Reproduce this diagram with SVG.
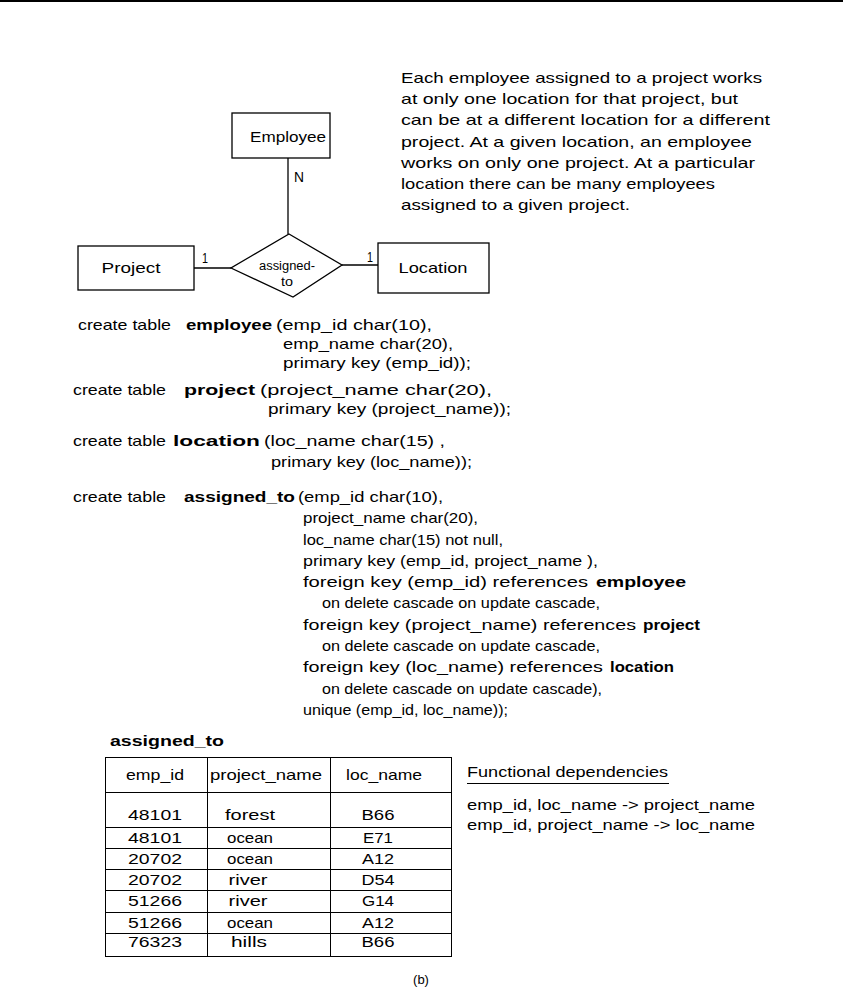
<svg xmlns="http://www.w3.org/2000/svg" width="843" height="991" viewBox="0 0 843 991">
<style>
.t { font-family: "Liberation Sans", Arial, sans-serif; font-size: 15px; fill: #000; }
.b { font-weight: bold; }
.s { font-size: 12px; }
.box { fill: #fff; stroke: #000; stroke-width: 1.3; }
.ln { stroke: #000; stroke-width: 1.3; fill: none; }
.tl { stroke: #000; stroke-width: 1; fill: none; }
</style>
<rect x="0" y="0" width="843" height="2" fill="#000"/>

<g id="connectors">
  <line class="ln" x1="288" y1="158" x2="288" y2="234"/>
  <line class="ln" x1="194" y1="268" x2="231" y2="268"/>
  <line class="ln" x1="342" y1="265" x2="378" y2="265"/>
  <text class="t" x="294" y="182" textLength="10" lengthAdjust="spacingAndGlyphs">N</text>
  <text class="t" x="202" y="263" textLength="6" lengthAdjust="spacingAndGlyphs">1</text>
  <text class="t" x="367" y="262" textLength="6" lengthAdjust="spacingAndGlyphs">1</text>
</g>

<g id="employee">
  <rect class="box" x="232" y="113" width="98" height="45"/>
  <text class="t" x="288" y="142" text-anchor="middle" textLength="76" lengthAdjust="spacingAndGlyphs">Employee</text>
</g>
<g id="project">
  <rect class="box" x="78" y="246" width="116" height="44"/>
  <text class="t" x="131" y="273" text-anchor="middle" textLength="59" lengthAdjust="spacingAndGlyphs">Project</text>
</g>
<g id="location">
  <rect class="box" x="378" y="243" width="111" height="50"/>
  <text class="t" x="433" y="273" text-anchor="middle" textLength="69" lengthAdjust="spacingAndGlyphs">Location</text>
</g>
<g id="assigned_to_rel">
  <polygon class="box" points="289,234 342,265 293,297 231,268"/>
  <text class="t s" x="287" y="270" text-anchor="middle" textLength="56" lengthAdjust="spacingAndGlyphs">assigned-</text>
  <text class="t s" x="287" y="286" text-anchor="middle" textLength="12" lengthAdjust="spacingAndGlyphs">to</text>
</g>

<g id="note">
  <text class="t" x="401" y="83" textLength="361" lengthAdjust="spacingAndGlyphs">Each employee assigned to a project works</text>
  <text class="t" x="401" y="104" textLength="337" lengthAdjust="spacingAndGlyphs">at only one location for that project, but</text>
  <text class="t" x="401" y="125" textLength="369" lengthAdjust="spacingAndGlyphs">can be at a different location for a different</text>
  <text class="t" x="401" y="147" textLength="351" lengthAdjust="spacingAndGlyphs">project.  At a given location, an employee</text>
  <text class="t" x="401" y="168" textLength="354" lengthAdjust="spacingAndGlyphs">works on only one project.  At a particular</text>
  <text class="t" x="401" y="189" textLength="314" lengthAdjust="spacingAndGlyphs">location there can be many employees</text>
  <text class="t" x="401" y="210" textLength="229" lengthAdjust="spacingAndGlyphs">assigned to a given project.</text>
</g>

<g id="sql">
  <text class="t" x="78" y="330" textLength="93" lengthAdjust="spacingAndGlyphs">create table</text>
  <text class="t b" x="186" y="330" textLength="86" lengthAdjust="spacingAndGlyphs">employee</text>
  <text class="t" x="276" y="330" textLength="156" lengthAdjust="spacingAndGlyphs">(emp_id  char(10),</text>
  <text class="t" x="283" y="349" textLength="170" lengthAdjust="spacingAndGlyphs">emp_name  char(20),</text>
  <text class="t" x="283" y="368" textLength="188" lengthAdjust="spacingAndGlyphs">primary key (emp_id));</text>

  <text class="t" x="73" y="395" textLength="93" lengthAdjust="spacingAndGlyphs">create table</text>
  <text class="t b" x="184" y="395" textLength="71" lengthAdjust="spacingAndGlyphs">project</text>
  <text class="t" x="260" y="395" textLength="232" lengthAdjust="spacingAndGlyphs">(project_name  char(20),</text>
  <text class="t" x="268" y="414" textLength="243" lengthAdjust="spacingAndGlyphs">primary key (project_name));</text>

  <text class="t" x="73" y="446" textLength="93" lengthAdjust="spacingAndGlyphs">create table</text>
  <text class="t b" x="173" y="446" textLength="87" lengthAdjust="spacingAndGlyphs">location</text>
  <text class="t" x="264" y="446" textLength="181" lengthAdjust="spacingAndGlyphs">(loc_name  char(15) ,</text>
  <text class="t" x="271" y="467" textLength="201" lengthAdjust="spacingAndGlyphs">primary key (loc_name));</text>

  <text class="t" x="73" y="502" textLength="93" lengthAdjust="spacingAndGlyphs">create table</text>
  <text class="t b" x="184" y="502" textLength="111" lengthAdjust="spacingAndGlyphs">assigned_to</text>
  <text class="t" x="298" y="502" textLength="145" lengthAdjust="spacingAndGlyphs">(emp_id  char(10),</text>
  <text class="t" x="303" y="523" textLength="175" lengthAdjust="spacingAndGlyphs">project_name  char(20),</text>
  <text class="t" x="303" y="545" textLength="200" lengthAdjust="spacingAndGlyphs">loc_name  char(15) not null,</text>
  <text class="t" x="303" y="566" textLength="295" lengthAdjust="spacingAndGlyphs">primary key (emp_id, project_name ),</text>
  <text class="t" x="303" y="587" textLength="285" lengthAdjust="spacingAndGlyphs">foreign key (emp_id) references</text>
  <text class="t b" x="596" y="587" textLength="90" lengthAdjust="spacingAndGlyphs">employee</text>
  <text class="t" x="322" y="608" textLength="278" lengthAdjust="spacingAndGlyphs">on delete cascade on update cascade,</text>
  <text class="t" x="303" y="630" textLength="333" lengthAdjust="spacingAndGlyphs">foreign key (project_name) references</text>
  <text class="t b" x="643" y="630" textLength="57" lengthAdjust="spacingAndGlyphs">project</text>
  <text class="t" x="322" y="651" textLength="278" lengthAdjust="spacingAndGlyphs">on delete cascade on update cascade,</text>
  <text class="t" x="303" y="672" textLength="300" lengthAdjust="spacingAndGlyphs">foreign key (loc_name) references</text>
  <text class="t b" x="610" y="672" textLength="64" lengthAdjust="spacingAndGlyphs">location</text>
  <text class="t" x="322" y="694" textLength="280" lengthAdjust="spacingAndGlyphs">on delete cascade on update cascade),</text>
  <text class="t" x="303" y="715" textLength="205" lengthAdjust="spacingAndGlyphs">unique (emp_id, loc_name));</text>
</g>

<g id="table">
  <text class="t b" x="110" y="746" textLength="114" lengthAdjust="spacingAndGlyphs">assigned_to</text>
  <rect class="tl" x="105.5" y="757.5" width="346" height="199"/>
  <line class="tl" x1="207.5" y1="757" x2="207.5" y2="957"/>
  <line class="tl" x1="330.5" y1="757" x2="330.5" y2="957"/>
  <line class="tl" x1="105" y1="792.5" x2="451" y2="792.5"/>
  <line class="tl" x1="105" y1="827.5" x2="451" y2="827.5"/>
  <line class="tl" x1="105" y1="848.5" x2="451" y2="848.5"/>
  <line class="tl" x1="105" y1="869.5" x2="451" y2="869.5"/>
  <line class="tl" x1="105" y1="890.5" x2="451" y2="890.5"/>
  <line class="tl" x1="105" y1="912.5" x2="451" y2="912.5"/>
  <line class="tl" x1="105" y1="933.5" x2="451" y2="933.5"/>
  <text class="t" x="155" y="780" text-anchor="middle" textLength="58" lengthAdjust="spacingAndGlyphs">emp_id</text>
  <text class="t" x="266" y="780" text-anchor="middle" textLength="112" lengthAdjust="spacingAndGlyphs">project_name</text>
  <text class="t" x="384" y="780" text-anchor="middle" textLength="76" lengthAdjust="spacingAndGlyphs">loc_name</text>

  <text class="t" x="155" y="820" text-anchor="middle" textLength="54" lengthAdjust="spacingAndGlyphs">48101</text>
  <text class="t" x="250" y="820" text-anchor="middle" textLength="50" lengthAdjust="spacingAndGlyphs">forest</text>
  <text class="t" x="378" y="820" text-anchor="middle" textLength="33" lengthAdjust="spacingAndGlyphs">B66</text>

  <text class="t" x="155" y="843" text-anchor="middle" textLength="54" lengthAdjust="spacingAndGlyphs">48101</text>
  <text class="t" x="250" y="843" text-anchor="middle" textLength="46" lengthAdjust="spacingAndGlyphs">ocean</text>
  <text class="t" x="378" y="843" text-anchor="middle" textLength="30" lengthAdjust="spacingAndGlyphs">E71</text>

  <text class="t" x="155" y="864" text-anchor="middle" textLength="54" lengthAdjust="spacingAndGlyphs">20702</text>
  <text class="t" x="250" y="864" text-anchor="middle" textLength="46" lengthAdjust="spacingAndGlyphs">ocean</text>
  <text class="t" x="378" y="864" text-anchor="middle" textLength="32" lengthAdjust="spacingAndGlyphs">A12</text>

  <text class="t" x="155" y="885" text-anchor="middle" textLength="54" lengthAdjust="spacingAndGlyphs">20702</text>
  <text class="t" x="248" y="885" text-anchor="middle" textLength="39" lengthAdjust="spacingAndGlyphs">river</text>
  <text class="t" x="378" y="885" text-anchor="middle" textLength="33" lengthAdjust="spacingAndGlyphs">D54</text>

  <text class="t" x="155" y="906" text-anchor="middle" textLength="54" lengthAdjust="spacingAndGlyphs">51266</text>
  <text class="t" x="248" y="906" text-anchor="middle" textLength="39" lengthAdjust="spacingAndGlyphs">river</text>
  <text class="t" x="378" y="906" text-anchor="middle" textLength="32" lengthAdjust="spacingAndGlyphs">G14</text>

  <text class="t" x="155" y="928" text-anchor="middle" textLength="54" lengthAdjust="spacingAndGlyphs">51266</text>
  <text class="t" x="250" y="928" text-anchor="middle" textLength="46" lengthAdjust="spacingAndGlyphs">ocean</text>
  <text class="t" x="378" y="928" text-anchor="middle" textLength="32" lengthAdjust="spacingAndGlyphs">A12</text>

  <text class="t" x="155" y="947" text-anchor="middle" textLength="54" lengthAdjust="spacingAndGlyphs">76323</text>
  <text class="t" x="249" y="947" text-anchor="middle" textLength="36" lengthAdjust="spacingAndGlyphs">hills</text>
  <text class="t" x="378" y="947" text-anchor="middle" textLength="33" lengthAdjust="spacingAndGlyphs">B66</text>
</g>

<g id="fd">
  <text class="t" x="467" y="777" textLength="201" lengthAdjust="spacingAndGlyphs">Functional dependencies</text>
  <line class="tl" x1="467" y1="783.5" x2="669" y2="783.5"/>
  <text class="t" x="467" y="810" textLength="288" lengthAdjust="spacingAndGlyphs">emp_id, loc_name -&gt; project_name</text>
  <text class="t" x="467" y="830" textLength="288" lengthAdjust="spacingAndGlyphs">emp_id, project_name -&gt; loc_name</text>
</g>

<text x="421" y="984" text-anchor="middle" font-family="Liberation Sans, Arial, sans-serif" font-size="13">(b)</text>
</svg>
